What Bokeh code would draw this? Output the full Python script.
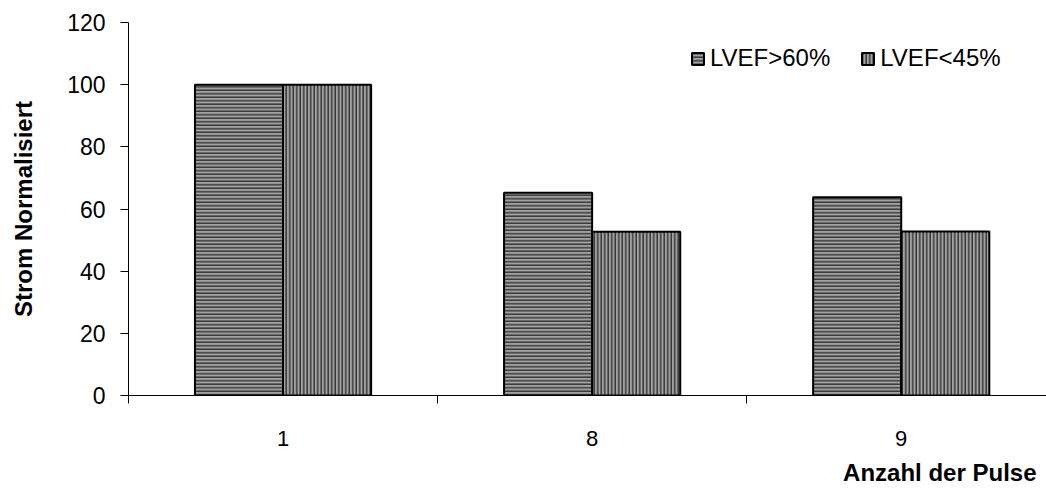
from bokeh.plotting import figure
from bokeh.models import Range1d, FixedTicker, Legend, LegendItem, Title
from bokeh.embed import file_html
from bokeh.resources import INLINE

# ---- data ----
categories = ["1", "8", "9"]
lvef_gt60 = [100, 65.2, 63.8]
lvef_lt45 = [100, 52.7, 52.8]
series_names = ["LVEF>60%", "LVEF<45%"]
y_ticks = [0, 20, 40, 60, 80, 100, 120]

FONT = "Liberation Sans"
bar_w = 0.285
n = len(categories)
idx = list(range(n))
x_a = [i + 0.5 - bar_w / 2 for i in idx]
x_b = [i + 0.5 + bar_w / 2 for i in idx]

p = figure(
    frame_width=918, frame_height=373,
    x_range=Range1d(0, 2.97), y_range=Range1d(0, 120),
    output_backend="svg", toolbar_location=None,
    min_border_left=128, min_border_right=0, min_border_top=22, min_border_bottom=60,
)
p.outline_line_color = None
p.xgrid.visible = False
p.ygrid.visible = False
p.background_fill_color = "white"
p.border_fill_color = "white"

common = dict(width=bar_w, bottom=0, line_color="black", line_width=2,
              fill_color="#a0a0a0", hatch_color="#3a3a3a",
              hatch_weight=1.5, hatch_scale=3.5)
ra = p.vbar(x=x_a, top=lvef_gt60, hatch_pattern="horizontal_line", **common)
rb = p.vbar(x=x_b, top=lvef_lt45, hatch_pattern="vertical_line", **common)

# x axis
xa = p.xaxis[0]
xa.ticker = FixedTicker(ticks=[i + 0.5 for i in idx], minor_ticks=[float(i) for i in range(n + 1)])
xa.major_label_overrides = {i + 0.5: c for i, c in zip(idx, categories)}
xa.major_tick_out = 0
xa.major_tick_in = 0
xa.minor_tick_out = 8
xa.minor_tick_in = 0
xa.minor_tick_line_color = "black"
xa.axis_line_color = "black"
xa.major_label_standoff = 27
xa.major_label_text_font = FONT
xa.major_label_text_font_size = "22px"
xa.major_label_text_color = "black"

# y axis
ya = p.yaxis[0]
ya.ticker = FixedTicker(ticks=y_ticks)
ya.major_tick_out = 8
ya.major_tick_in = 0
ya.minor_tick_out = 0
ya.minor_tick_in = 0
ya.axis_line_color = "black"
ya.major_tick_line_color = "black"
ya.major_label_standoff = 15
ya.major_label_text_font = FONT
ya.major_label_text_font_size = "23px"
ya.major_label_text_color = "black"
ya.axis_label = "Strom Normalisiert"
ya.axis_label_text_font = FONT
ya.axis_label_text_font_size = "24px"
ya.axis_label_text_font_style = "bold"
ya.axis_label_text_color = "black"
ya.axis_label_standoff = 27

xt = Title(text="Anzahl der Pulse", align="right", text_font=FONT,
           text_font_size="24px", text_font_style="bold", text_color="black",
           standoff=16, offset=10)
p.add_layout(xt, "below")

legend = Legend(items=[LegendItem(label=series_names[0], renderers=[ra]),
                       LegendItem(label=series_names[1], renderers=[rb])],
                orientation="horizontal", location=(562, 323),
                padding=0, margin=0, spacing=30,
                glyph_width=15, glyph_height=15, label_standoff=5,
                label_text_font=FONT, label_text_font_size="24px",
                label_text_color="black",
                border_line_color=None, background_fill_alpha=0)
p.add_layout(legend, "center")

open("out.html", "w").write(file_html(p, INLINE))
